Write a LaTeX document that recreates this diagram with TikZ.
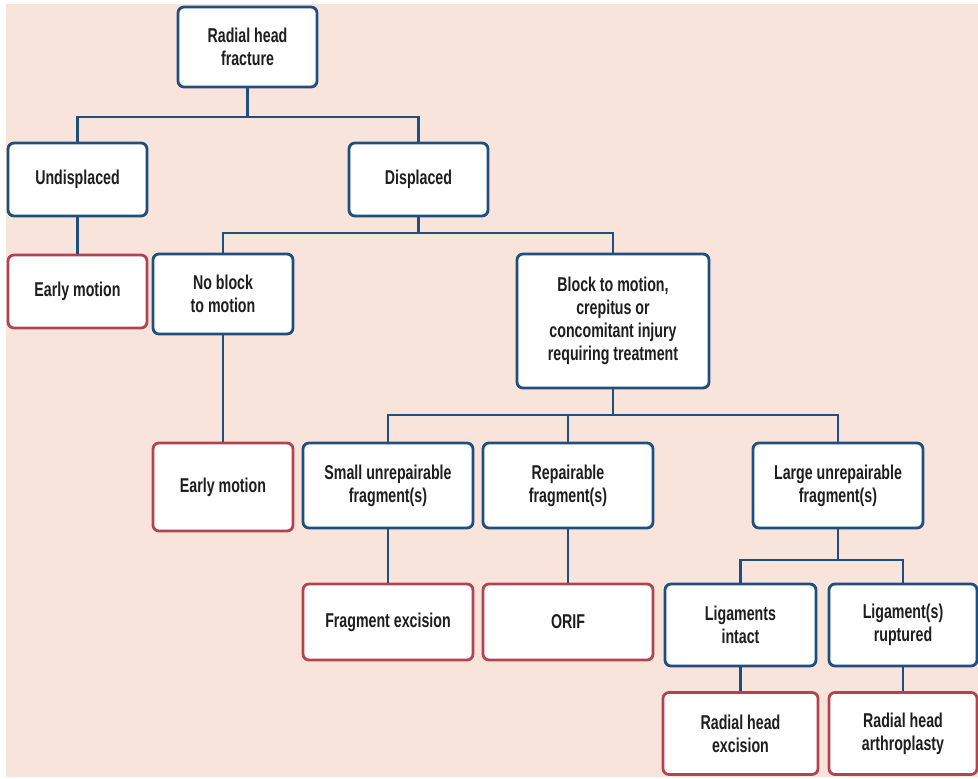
\documentclass[tikz,border=0pt]{standalone}
\usepackage{fontspec}
\setmainfont{Liberation Sans}[FakeStretch=0.71]
\definecolor{bgpink}{HTML}{F9E4DC}
\definecolor{bblue}{HTML}{1F4F7E}
\definecolor{rred}{HTML}{B24452}
\definecolor{txt}{HTML}{1E1E1E}
\begin{document}
\begin{tikzpicture}[x=1pt,y=-1pt,
  boxbase/.style={rectangle, rounded corners=6pt, fill=white, line width=2.8pt, align=center, text=txt,
    font=\fontsize{20}{23}\selectfont\bfseries, inner sep=2pt},
  bluebox/.style={boxbase, draw=bblue},
  redbox/.style={boxbase, draw=rred},
  conn/.style={draw=bblue, line width=2.8pt}]
\useasboundingbox (0,0) rectangle (978,779);
\fill[white] (0,0) rectangle (978,779);
\fill[bgpink] (6,4) rectangle (978,777);
% nodes
\node[bluebox, minimum width=139pt, minimum height=80pt] (root) at (247.5,47) {Radial head\\fracture};
\node[bluebox, minimum width=139pt, minimum height=73pt] (undis) at (77.5,179.5) {Undisplaced};
\node[bluebox, minimum width=139pt, minimum height=73pt] (disp) at (418.5,179.5) {Displaced};
\node[redbox, minimum width=139pt, minimum height=73pt] (early1) at (77.5,291.5) {Early motion};
\node[bluebox, minimum width=140pt, minimum height=80pt] (noblock) at (223,294) {No block\\to motion};
\node[bluebox, minimum width=192pt, minimum height=134pt] (block) at (613,321) {Block to motion,\\crepitus or\\concomitant injury\\requiring treatment};
\node[redbox, minimum width=140pt, minimum height=88pt] (early2) at (223,487) {Early motion};
\node[bluebox, minimum width=170pt, minimum height=85pt] (small) at (388,485.5) {Small unrepairable\\fragment(s)};
\node[bluebox, minimum width=170pt, minimum height=85pt] (repair) at (568,485.5) {Repairable\\fragment(s)};
\node[bluebox, minimum width=170pt, minimum height=85pt] (large) at (838,485.5) {Large unrepairable\\fragment(s)};
\node[redbox, minimum width=170pt, minimum height=76pt] (fragex) at (388,622) {Fragment excision};
\node[redbox, minimum width=170pt, minimum height=76pt] (orif) at (568,622) {ORIF};
\node[bluebox, minimum width=151pt, minimum height=82pt] (ligint) at (740.5,625) {Ligaments\\intact};
\node[bluebox, minimum width=148pt, minimum height=82pt] (ligrup) at (903,625) {Ligament(s)\\ruptured};
\node[redbox, minimum width=155pt, minimum height=82pt] (rhe) at (740.5,733.5) {Radial head\\excision};
\node[redbox, minimum width=148pt, minimum height=82pt] (rha) at (903,733.5) {Radial head\\arthroplasty};
% bus coordinates
\coordinate (bus1) at (0,117);
\coordinate (bus2) at (0,233);
\coordinate (bus3) at (0,415);
\coordinate (bus4) at (0,560);
% connectors
\draw[conn] (root.south) -- (root.south |- bus1);
\draw[conn] (undis.north) |- (bus1 -| disp.north) -- (disp.north);
\draw[conn] (undis.south) -- (early1.north);
\draw[conn] (disp.south) -- (disp.south |- bus2);
\draw[conn] (noblock.north) |- (bus2 -| block.north) -- (block.north);
\draw[conn] (noblock.south) -- (early2.north);
\draw[conn] (block.south) -- (block.south |- bus3);
\draw[conn] (small.north) |- (bus3 -| large.north) -- (large.north);
\draw[conn] (repair.north) -- (repair.north |- bus3);
\draw[conn] (small.south) -- (fragex.north);
\draw[conn] (repair.south) -- (orif.north);
\draw[conn] (large.south) -- (large.south |- bus4);
\draw[conn] (ligint.north) |- (bus4 -| ligrup.north) -- (ligrup.north);
\draw[conn] (ligint.south) -- (rhe.north);
\draw[conn] (ligrup.south) -- (rha.north);
\end{tikzpicture}
\end{document}
